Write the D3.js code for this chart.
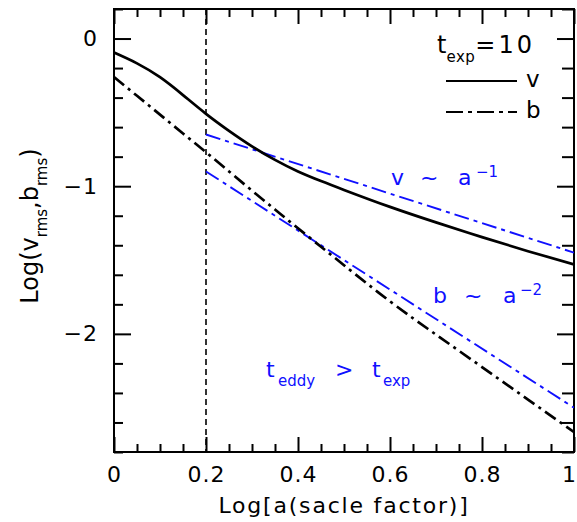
<!DOCTYPE html>
<html>
<head>
<meta charset="utf-8">
<script src="https://cdn.jsdelivr.net/npm/d3@7/dist/d3.min.js"></script>
<style>
  html, body { margin: 0; padding: 0; background: #fff; }
  svg { display: block; }
  text { font-family: "DejaVu Sans", sans-serif; }
</style>
</head>
<body>
<svg id="chart" width="577" height="522"></svg>
<script>
// ---- data ----
const xGrid = [0, 0.05, 0.1, 0.15, 0.2, 0.25, 0.3, 0.35, 0.4, 0.45, 0.5, 0.6, 0.7, 0.8, 0.9, 1.0];
const vRms  = [-0.095, -0.168, -0.262, -0.383, -0.51, -0.625, -0.73, -0.822, -0.9, -0.965, -1.025, -1.14, -1.245, -1.345, -1.44, -1.53];
const bRms  = [-0.26, -0.388, -0.515, -0.643, -0.77, -0.9, -1.03, -1.158, -1.285, -1.41, -1.535, -1.78, -2.005, -2.225, -2.445, -2.665];
const vFitX = [0.2, 1.0];
const vFitY = [-0.65, -1.45];   // v ~ a^-1
const bFitX = [0.2, 1.0];
const bFitY = [-0.90, -2.50];   // b ~ a^-2
const xMajorTicks = [0, 0.2, 0.4, 0.6, 0.8, 1];
const xMinorTicks = [0.05, 0.1, 0.15, 0.25, 0.3, 0.35, 0.45, 0.5, 0.55, 0.65, 0.7, 0.75, 0.85, 0.9, 0.95];
const yMajorTicks = [0, -1, -2];
const yMinorTicks = [0.2, -0.2, -0.4, -0.6, -0.8, -1.2, -1.4, -1.6, -1.8, -2.2, -2.4, -2.6, -2.8];
const xTickLabels = ["0", "0.2", "0.4", "0.6", "0.8", "1"];
const yTickLabels = ["0", "\u22121", "\u22122"];
const tExp = 10;
const vlineX = 0.2;

// ---- layout ----
const L = 114, R = 574, T = 9, B = 452;
const svg = d3.select("#chart");
const x = d3.scaleLinear().domain([0, 1]).range([L, R]);
const y = d3.scaleLinear().domain([-2.8, 0.2]).range([B, T]);

const blue = "#1010ff";

svg.append("clipPath").attr("id", "clip").append("rect")
  .attr("x", L).attr("y", T).attr("width", R - L).attr("height", B - T);

function styleAxis(g) {
  g.select(".domain").remove();
  g.selectAll(".tick line").attr("stroke", "#000").attr("stroke-width", 2);
  g.selectAll("text").attr("font-size", 22).attr("fill", "#000")
    .attr("letter-spacing", 1)
    .attr("font-family", "DejaVu Sans, sans-serif");
}
// bottom
svg.append("g").attr("transform", `translate(0,${B})`)
  .call(d3.axisBottom(x).tickValues(xMajorTicks).tickSize(-15).tickPadding(14)
    .tickFormat((d, i) => xTickLabels[i]))
  .call(styleAxis)
  .call(g => g.selectAll(".tick text").filter(d => d === 1).attr("dx", -5));
svg.append("g").attr("transform", `translate(0,${B})`)
  .call(d3.axisBottom(x).tickValues(xMinorTicks).tickSize(-8).tickFormat(""))
  .call(styleAxis);
// top
svg.append("g").attr("transform", `translate(0,${T})`)
  .call(d3.axisTop(x).tickValues(xMajorTicks).tickSize(-15).tickFormat(""))
  .call(styleAxis);
svg.append("g").attr("transform", `translate(0,${T})`)
  .call(d3.axisTop(x).tickValues(xMinorTicks).tickSize(-8).tickFormat(""))
  .call(styleAxis);
// left
svg.append("g").attr("transform", `translate(${L},0)`)
  .call(d3.axisLeft(y).tickValues(yMajorTicks).tickSize(-17).tickPadding(16)
    .tickFormat((d, i) => yTickLabels[i]))
  .call(styleAxis);
svg.append("g").attr("transform", `translate(${L},0)`)
  .call(d3.axisLeft(y).tickValues(yMinorTicks).tickSize(-9).tickFormat(""))
  .call(styleAxis);
// right
svg.append("g").attr("transform", `translate(${R},0)`)
  .call(d3.axisRight(y).tickValues(yMajorTicks).tickSize(-17).tickFormat(""))
  .call(styleAxis);
svg.append("g").attr("transform", `translate(${R},0)`)
  .call(d3.axisRight(y).tickValues(yMinorTicks).tickSize(-12).tickFormat(""))
  .call(styleAxis);

// frame
svg.append("rect").attr("x", L).attr("y", T).attr("width", R - L).attr("height", B - T)
  .attr("fill", "none").attr("stroke", "#000").attr("stroke-width", 2);

const plot = svg.append("g").attr("clip-path", "url(#clip)");

// vertical dashed line
plot.append("line").attr("x1", x(vlineX)).attr("x2", x(vlineX)).attr("y1", T).attr("y2", B)
  .attr("stroke", "#000").attr("stroke-width", 1.6).attr("stroke-dasharray", "6,4");

const line = d3.line().curve(d3.curveNatural).x(d => x(d[0])).y(d => y(d[1]));

// fits
plot.append("path").datum(vFitX.map((d, i) => [d, vFitY[i]])).attr("d", line)
  .attr("fill", "none").attr("stroke", blue).attr("stroke-width", 1.9).attr("stroke-dasharray", "15,5,4,5");
plot.append("path").datum(bFitX.map((d, i) => [d, bFitY[i]])).attr("d", line)
  .attr("fill", "none").attr("stroke", blue).attr("stroke-width", 1.9).attr("stroke-dasharray", "15,5,4,5");

// curves
plot.append("path").datum(xGrid.map((d, i) => [d, vRms[i]])).attr("d", line)
  .attr("fill", "none").attr("stroke", "#000").attr("stroke-width", 2.7);
plot.append("path").datum(xGrid.map((d, i) => [d, bRms[i]])).attr("d", line)
  .attr("fill", "none").attr("stroke", "#000").attr("stroke-width", 2.7).attr("stroke-dasharray", "13,5,3,5");

// legend
const lg = svg.append("g");
const t1 = lg.append("text").attr("x", 437).attr("y", 53).attr("font-size", 24);
t1.append("tspan").text("t");
t1.append("tspan").attr("dy", 9).attr("font-size", 15).attr("letter-spacing", 0.5).text("exp");
t1.append("tspan").attr("dy", -9).attr("letter-spacing", 3).text("=" + tExp);
lg.append("line").attr("x1", 446).attr("x2", 517).attr("y1", 81).attr("y2", 81)
  .attr("stroke", "#000").attr("stroke-width", 1.8);
lg.append("text").attr("x", 526).attr("y", 87).attr("font-size", 23).text("v");
lg.append("line").attr("x1", 446).attr("x2", 517).attr("y1", 112).attr("y2", 112)
  .attr("stroke", "#000").attr("stroke-width", 1.8).attr("stroke-dasharray", "17,5,4,5");
lg.append("text").attr("x", 526).attr("y", 118).attr("font-size", 23).text("b");

// annotations
function ann(parts) {
  parts.forEach(p => {
    svg.append("text").attr("x", p.x).attr("y", p.y).attr("font-size", p.s)
      .attr("fill", blue).text(p.t);
  });
}
ann([
  {x: 391, y: 185, s: 22, t: "v"},
  {x: 420, y: 185, s: 22, t: "~"},
  {x: 458, y: 185, s: 22, t: "a"},
  {x: 476, y: 177, s: 15, t: "\u22121"},
  {x: 433, y: 303, s: 22, t: "b"},
  {x: 464, y: 303, s: 22, t: "~"},
  {x: 503, y: 303, s: 22, t: "a"},
  {x: 520, y: 295, s: 15, t: "\u22122"},
  {x: 266, y: 377, s: 22, t: "t"},
  {x: 278, y: 386, s: 15, t: "eddy"},
  {x: 335, y: 377, s: 22, t: ">"},
  {x: 372, y: 377, s: 22, t: "t"},
  {x: 383, y: 386, s: 15, t: "exp"}
]);

// axis titles
svg.append("text").attr("x", (L + R) / 2).attr("y", 513).attr("text-anchor", "middle")
  .attr("font-size", 22).attr("letter-spacing", 1.8).text("Log[a(sacle factor)]");
const yt = svg.append("text").attr("transform", "translate(38,226) rotate(-90)")
  .attr("text-anchor", "middle").attr("font-size", 24);
yt.append("tspan").text("Log(v");
yt.append("tspan").attr("dy", 9).attr("font-size", 15).text("rms");
yt.append("tspan").attr("dy", -9).text(",b");
yt.append("tspan").attr("dy", 9).attr("font-size", 15).text("rms");
yt.append("tspan").attr("dy", -9).text(")");
</script>
</body>
</html>
